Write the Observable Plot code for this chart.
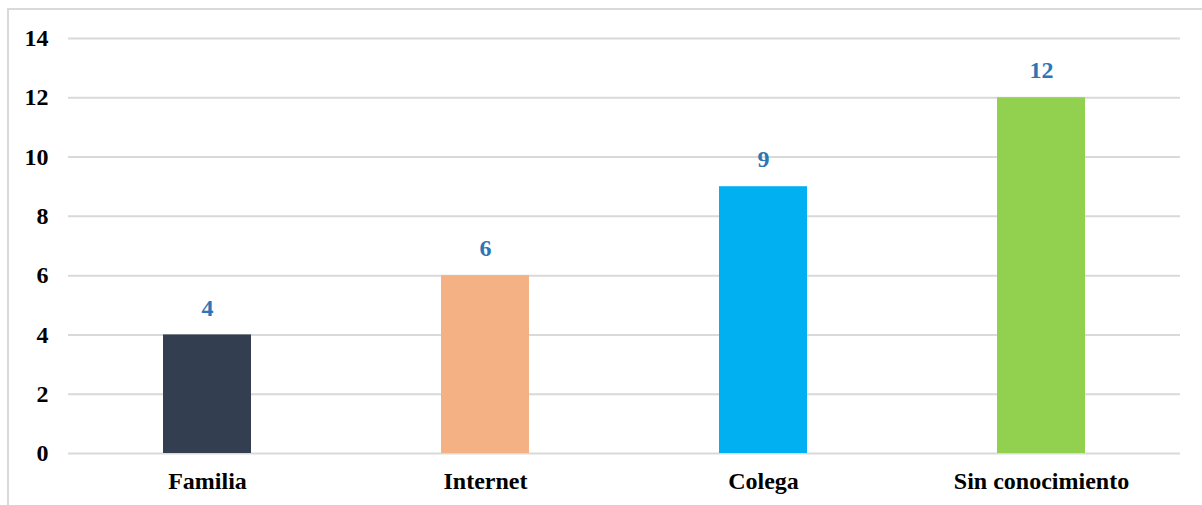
<!DOCTYPE html>
<html>
<head>
<meta charset="utf-8">
<script src="https://cdn.jsdelivr.net/npm/d3@7"></script>
<script src="https://cdn.jsdelivr.net/npm/@observablehq/plot@0.6"></script>
<style>
  html, body { margin: 0; padding: 0; background: #fff; }
  #wrap { position: relative; width: 1202px; height: 505px; overflow: hidden; }
  #frame { position: absolute; left: 7px; top: 8px; width: 1210px; height: 520px; border: 2px solid #d9d9d9; box-sizing: border-box; }
  #chart { position: absolute; left: 0; top: 0; }
</style>
</head>
<body>
<div id="wrap">
  <div id="frame"></div>
  <div id="chart"></div>
</div>
<script>
const categories = ["Familia", "Internet", "Colega", "Sin conocimiento"];
const values = [4, 6, 9, 12];
const colors = ["#333F50", "#F4B183", "#00B0F0", "#92D050"];
const yTicks = [0, 2, 4, 6, 8, 10, 12, 14];

const data = categories.map((c, i) => ({category: c, value: values[i], color: colors[i]}));

const chart = Plot.plot({
  width: 1202,
  height: 505,
  marginLeft: 68,
  marginRight: 22,
  marginTop: 38,
  marginBottom: 52,
  style: {fontFamily: "'Liberation Serif', 'Times New Roman', serif", fontWeight: "bold", fontSize: "24px", color: "#000", background: "transparent"},
  x: {domain: categories, paddingInner: 0.683, paddingOuter: 0.3415, label: null},
  y: {domain: [0, 14], ticks: yTicks, label: null},
  marks: [
    Plot.gridY(yTicks, {stroke: "#d9d9d9", strokeOpacity: 1, strokeWidth: 2}),
    Plot.barY(data, {x: "category", y: "value", fill: "color"}),
    Plot.text(data, {x: "category", y: "value", text: d => String(d.value), dy: -27, fill: "#2E75B6", fontSize: 24, fontWeight: "bold"}),
    Plot.axisX({tickSize: 0, tickPadding: 18, fontSize: 24, fontWeight: "bold"}),
    Plot.axisY({ticks: yTicks, tickSize: 0, tickPadding: 20, fontSize: 24, fontWeight: "bold"})
  ]
});
document.getElementById("chart").appendChild(chart);
</script>
</body>
</html>
